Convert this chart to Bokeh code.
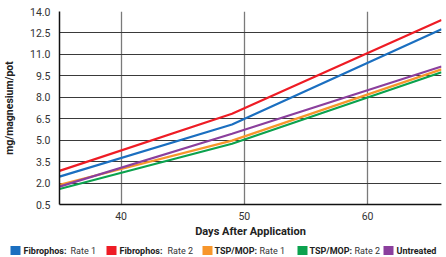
from bokeh.plotting import figure
from bokeh.layouts import column, row
from bokeh.models import FixedTicker, PrintfTickFormatter, Range1d
from bokeh.core.properties import value
from bokeh.embed import file_html
from bokeh.resources import INLINE

days = [35, 49, 66]
fibro_rate1 = [2.45, 6.1, 12.75]
fibro_rate2 = [2.85, 6.85, 13.4]
tsp_rate1 = [1.88, 4.97, 9.95]
tsp_rate2 = [1.58, 4.75, 9.75]
untreated = [1.75, 5.45, 10.15]

y_ticks = [0.5, 2.0, 3.5, 5.0, 6.5, 8.0, 9.5, 11.0, 12.5, 14.0]
x_ticks = [40, 50, 60]

series_bold = ["Fibrophos:", "Fibrophos:", "TSP/MOP:", "TSP/MOP:", "Untreated"]
series_rest = ["Rate 1", "Rate 2", "Rate 1", "Rate 2", ""]
series_vals = [fibro_rate1, fibro_rate2, tsp_rate1, tsp_rate2, untreated]
colors = ["#1b6fc0", "#ee1c25", "#f7962b", "#0ba24e", "#8b3f9d"]
draw_order = [3, 2, 4, 0, 1]

FONT = "Roboto"

p = figure(width=446, height=243, output_backend="svg", toolbar_location=None,
           x_range=Range1d(35, 66), y_range=Range1d(0.5, 14.0),
           min_border_left=58, min_border_right=5, min_border_top=11, min_border_bottom=39)
p.outline_line_color = None
p.background_fill_color = "white"

for i in draw_order:
    p.line(days, series_vals[i], line_color=colors[i], line_width=2.2)

p.yaxis.ticker = FixedTicker(ticks=y_ticks)
p.yaxis.formatter = PrintfTickFormatter(format="%.1f")
p.xaxis.ticker = FixedTicker(ticks=x_ticks)

for ax in (p.xaxis[0], p.yaxis[0]):
    ax.axis_line_color = "#111111"
    ax.axis_line_width = 1.5
    ax.major_tick_line_color = None
    ax.minor_tick_line_color = None
    ax.major_tick_out = 0
    ax.major_tick_in = 0
    ax.minor_tick_out = 0
    ax.minor_tick_in = 0
    ax.major_label_text_font = FONT
    ax.major_label_text_font_size = "10.5px"
    ax.major_label_text_color = "#333333"
    ax.axis_label_text_font = FONT
    ax.axis_label_text_font_style = "bold"
    ax.axis_label_text_color = "#222222"

p.yaxis.axis_label = "mg/magnesium/pot"
p.yaxis.axis_label_text_font_size = "10.5px"
p.yaxis.major_label_standoff = 9
p.yaxis.axis_label_standoff = 11
p.xaxis.axis_label = "Days After Application"
p.xaxis.axis_label_text_font_size = "11px"
p.xaxis.major_label_standoff = 7
p.xaxis.axis_label_standoff = 2

p.ygrid.ticker = FixedTicker(ticks=y_ticks)
p.ygrid.grid_line_color = "#3a3a3a"
p.ygrid.grid_line_width = 1
p.xgrid.ticker = FixedTicker(ticks=x_ticks)
p.xgrid.grid_line_color = "#7a7a7a"
p.xgrid.grid_line_width = 1.3

# Legend strip (x in pixels across the strip)
lg = figure(width=446, height=14, output_backend="svg", toolbar_location=None,
            x_range=Range1d(0, 446), y_range=Range1d(0, 1),
            x_axis_type=None, y_axis_type=None,
            min_border_left=0, min_border_right=0,
            min_border_top=0, min_border_bottom=0)
lg.grid.visible = False
lg.outline_line_color = None

sq_x = [15, 111, 207, 302, 388]
bold_x = [23, 119, 214, 309, 396]
rest_x = [70, 167, 259, 354]
lg.rect(x=sq_x, y=[0.5] * 5, width=10, height=9, width_units="screen",
        height_units="screen", fill_color=colors, line_color=None)
lg.text(x=bold_x, y=[0.5] * 5, text=series_bold, text_font=value(FONT),
        text_font_style="bold", text_font_size="9px", text_baseline="middle",
        text_color="#222222")
lg.text(x=rest_x, y=[0.5] * 4, text=series_rest[:4], text_font=value(FONT),
        text_font_size="9px", text_baseline="middle", text_color="#333333")

layout = column(p, row(lg), spacing=0)
open("out.html", "w").write(file_html(layout, INLINE))
